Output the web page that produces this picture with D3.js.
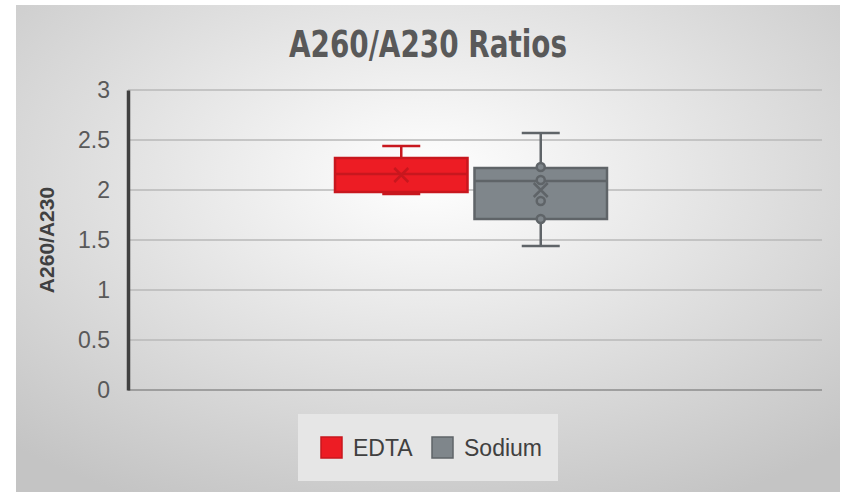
<!DOCTYPE html>
<html>
<head>
<meta charset="utf-8">
<script src="https://cdn.jsdelivr.net/npm/d3@7"></script>
<style>
  body { margin: 0; background: #fff; }
  text { font-family: Arial, "Liberation Sans", sans-serif; }
</style>
</head>
<body>
<script>
// data
var series = ["EDTA", "Sodium"];
var colors = ["#ed1c24", "#7f868b"];
var strokes = ["#c8171e", "#5f6468"];
var whiskerLow = [1.96, 1.44];
var q1 = [1.98, 1.71];
var median = [2.16, 2.09];
var q3 = [2.32, 2.22];
var whiskerHigh = [2.44, 2.57];
var mean = [2.15, 2.00];
var innerPoints = [[], [2.23, 2.10, 1.89, 1.71]];
var yTicks = [0, 0.5, 1, 1.5, 2, 2.5, 3];

var width = 846, height = 492;

var svg = d3.select("body").append("svg")
  .attr("width", width)
  .attr("height", height);

var defs = svg.append("defs");
var grad = defs.append("radialGradient")
  .attr("id", "bg")
  .attr("cx", "0.5").attr("cy", "0.35").attr("r", "0.75");
grad.append("stop").attr("offset", "0").attr("stop-color", "#ffffff");
grad.append("stop").attr("offset", "1").attr("stop-color", "#c4c4c4");

svg.append("rect")
  .attr("x", 16).attr("y", 5)
  .attr("width", 824).attr("height", 487)
  .attr("fill", "url(#bg)");

var left = 128, right = 822;

var y = d3.scaleLinear().domain([0, 3]).range([390, 90]);
var x = d3.scaleBand().domain(series).range([335, 607]).paddingInner(0.05);

// gridlines
svg.selectAll(".grid")
  .data(yTicks)
  .enter().append("line")
  .attr("x1", left).attr("x2", right)
  .attr("y1", function (d) { return y(d); })
  .attr("y2", function (d) { return y(d); })
  .attr("stroke", function (d) { return d === 0 ? "#8c8c8c" : "#b8b8b8"; })
  .attr("stroke-width", 1.5);

// y axis
var yAxis = svg.append("g")
  .attr("transform", "translate(" + left + ",0)")
  .call(d3.axisLeft(y).tickValues(yTicks).tickSize(0).tickPadding(18)
    .tickFormat(function (d) { return String(d); }));
yAxis.select(".domain").attr("stroke", "#404040").attr("stroke-width", 3.5);
yAxis.selectAll("text")
  .attr("font-size", 23)
  .attr("fill", "#595959")
  .style("font-family", "Arial, 'Liberation Sans', sans-serif");

// boxes
var g = svg.selectAll(".box")
  .data(series)
  .enter().append("g");

g.each(function (s, i) {
  var sel = d3.select(this);
  var x0 = x(s), bw = x.bandwidth(), cx = x0 + bw / 2;
  var capW = 38;

  sel.append("line")
    .attr("x1", cx).attr("x2", cx)
    .attr("y1", y(whiskerHigh[i])).attr("y2", y(whiskerLow[i]))
    .attr("stroke", strokes[i]).attr("stroke-width", 2.5);
  [whiskerHigh[i], whiskerLow[i]].forEach(function (v) {
    sel.append("line")
      .attr("x1", cx - capW / 2).attr("x2", cx + capW / 2)
      .attr("y1", y(v)).attr("y2", y(v))
      .attr("stroke", strokes[i]).attr("stroke-width", 2.5);
  });

  sel.append("rect")
    .attr("x", x0).attr("y", y(q3[i]))
    .attr("width", bw).attr("height", y(q1[i]) - y(q3[i]))
    .attr("fill", colors[i])
    .attr("stroke", strokes[i]).attr("stroke-width", 2.5);

  sel.append("line")
    .attr("x1", x0).attr("x2", x0 + bw)
    .attr("y1", y(median[i])).attr("y2", y(median[i]))
    .attr("stroke", strokes[i]).attr("stroke-width", 2.5);

  var m = 7;
  sel.append("path")
    .attr("d", "M" + (cx - m) + "," + (y(mean[i]) - m) + "L" + (cx + m) + "," + (y(mean[i]) + m) +
      "M" + (cx - m) + "," + (y(mean[i]) + m) + "L" + (cx + m) + "," + (y(mean[i]) - m))
    .attr("stroke", strokes[i]).attr("stroke-width", 2.5).attr("fill", "none");

  sel.selectAll("circle")
    .data(innerPoints[i])
    .enter().append("circle")
    .attr("cx", cx)
    .attr("cy", function (d) { return y(d); })
    .attr("r", 4)
    .attr("fill", colors[i])
    .attr("stroke", strokes[i]).attr("stroke-width", 2.5);
});

// title
svg.append("text")
  .attr("x", 428).attr("y", 57)
  .attr("text-anchor", "middle")
  .attr("font-size", 37)
  .attr("font-weight", "bold")
  .attr("fill", "#595959")
  .attr("textLength", 278)
  .attr("lengthAdjust", "spacingAndGlyphs")
  .style("font-family", "'DejaVu Sans Condensed', 'DejaVu Sans', sans-serif")
  .text("A260/A230 Ratios");

// y axis title
svg.append("text")
  .attr("transform", "translate(54,240) rotate(-90)")
  .attr("text-anchor", "middle")
  .attr("font-size", 21)
  .attr("font-weight", "bold")
  .attr("fill", "#404040")
  .text("A260/A230");

// legend
var legend = svg.append("g");
legend.append("rect")
  .attr("x", 298).attr("y", 414)
  .attr("width", 260).attr("height", 67)
  .attr("fill", "#e6e6e6");

var legendX = [321, 432];
series.forEach(function (s, i) {
  legend.append("rect")
    .attr("x", legendX[i]).attr("y", 437)
    .attr("width", 21).attr("height", 21)
    .attr("fill", colors[i])
    .attr("stroke", strokes[i]).attr("stroke-width", 1.5);
  legend.append("text")
    .attr("x", legendX[i] + 32).attr("y", 456)
    .attr("font-size", 23)
    .attr("fill", "#404040")
    .text(s);
});
</script>
</body>
</html>
